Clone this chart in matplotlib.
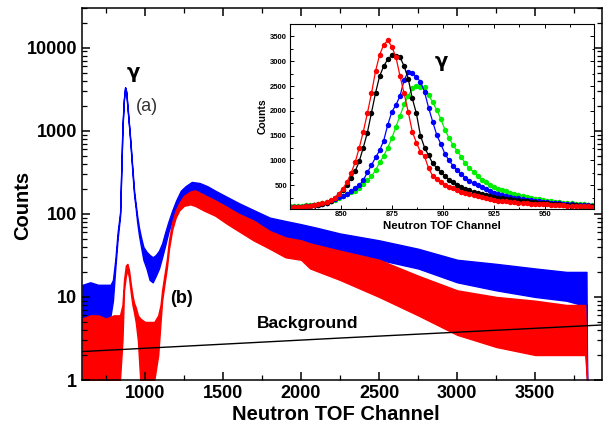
import numpy as np
import matplotlib
matplotlib.use("Agg")
import matplotlib.pyplot as plt
from matplotlib.ticker import MultipleLocator, LogLocator, NullFormatter

plt.rcParams.update({
    "font.family": ["Liberation Sans", "DejaVu Sans"],
    "font.weight": "bold",
    "axes.linewidth": 1.1,
})

# ---- full TOF spectra: channel, lower / upper envelope of the counts ----
blue_ch = [600, 650, 700, 750, 780, 795, 810, 825, 841, 848, 856, 865, 873, 880, 890,
           899, 907, 915, 923, 931, 940, 950, 962, 975, 990, 1010, 1030, 1050, 1070,
           1090, 1110, 1130, 1150, 1175, 1200, 1230, 1260, 1300, 1350, 1400, 1450,
           1525, 1600, 1700, 1800, 1900, 2000, 2100, 2250, 2500, 2750, 3000, 3250,
           3500, 3700, 3800, 3828, 3832]
blue_lo = [4, 4, 4, 5, 6, 9, 22, 50, 95, 300, 1050, 2300, 3300, 2900, 1700,
           1080, 700, 420, 260, 165, 120, 80, 55, 40, 28, 22, 16, 15, 18,
           22, 30, 42, 60, 85, 110, 140, 160, 175, 170, 155, 140,
           110, 95, 72, 58, 52, 48, 42, 36, 28, 22, 15, 12,
           10, 9, 8, 8, 1]
blue_hi = [14, 15, 14, 14, 14, 16, 28, 60, 105, 320, 1150, 2400, 3350, 3000, 1800,
           1130, 740, 460, 290, 185, 135, 95, 68, 52, 40, 35, 32, 30, 32,
           36, 44, 60, 80, 110, 145, 190, 215, 242, 235, 215, 190,
           160, 135, 110, 90, 82, 75, 68, 58, 48, 38, 28, 25,
           22, 20, 20, 20, 1]

red_ch = [600, 650, 700, 750, 800, 840, 856, 866, 878, 888, 898, 910, 920, 930, 941,
          955, 970, 1000, 1030, 1060, 1085, 1100, 1110, 1122, 1140, 1154, 1175, 1197,
          1220, 1250, 1290, 1320, 1376, 1450, 1525, 1600, 1695, 1800, 1900, 2000,
          2058, 2250, 2500, 2750, 3000, 3250, 3500, 3700, 3820, 3832]
red_lo = [1, 1, 1, 1, 1, 1, 3, 12, 18, 21, 17, 11, 8, 6.5, 5,
          3, 1, 1, 1, 1, 2, 5, 9, 13, 22, 38, 65, 90,
          110, 125, 130, 125, 110, 95, 76, 62, 48, 38, 30, 28,
          22, 16, 10, 6, 3.5, 2.5, 2, 2, 2, 1]
red_hi = [5.5, 6, 6, 5.5, 6, 6, 8, 16, 24, 25, 21, 14, 10.5, 8.5, 7.5,
          6, 5.5, 5, 5, 5, 6, 8, 12, 17, 28, 48, 80, 110,
          135, 165, 185, 192, 170, 145, 121, 100, 83, 62, 52, 48,
          44, 36, 28, 18, 12, 10, 9, 8, 8, 1]

bg_ch = [597, 2250, 3930]
bg_counts = [2.2, 3.2, 4.6]

# ---- gamma-peak detail, one value every 2 channels ----
peak_ch = np.arange(825, 975, 2)
red_pk = [60, 62, 65, 70, 78, 88, 100, 115, 135, 160, 195, 245, 320, 430, 560,
          740, 960, 1250, 1580, 1950, 2350, 2800, 3130, 3330, 3420, 3290, 3080,
          2700, 2350, 1980, 1580, 1360, 1170, 1080, 840, 690, 620, 570, 510, 470,
          440, 410, 370, 335, 315, 295, 280, 265, 235, 215, 200, 185, 178, 172,
          166, 160, 150, 142, 135, 128, 122, 118, 115, 112, 108, 102, 97, 92, 88,
          84, 80, 77, 74, 72, 70]
black_pk = [60, 62, 65, 70, 76, 85, 96, 110, 128, 150, 185, 240, 318, 400, 500,
            650, 780, 980, 1260, 1560, 1960, 2360, 2700, 2900, 3040, 3120, 3100,
            3080, 2900, 2650, 2250, 1950, 1500, 1260, 1100, 940, 850, 760, 680,
            610, 560, 510, 465, 430, 400, 370, 345, 320, 300, 280, 265, 252, 240,
            228, 215, 205, 195, 185, 175, 165, 157, 148, 140, 132, 125, 118, 112,
            106, 100, 96, 92, 88, 84, 80, 78]
blue_pk = [60, 62, 65, 70, 76, 84, 94, 106, 122, 145, 175, 215, 255, 290, 320,
           380, 440, 500, 600, 760, 900, 1060, 1200, 1400, 1720, 1980, 2120, 2300,
           2620, 2790, 2770, 2680, 2590, 2380, 2060, 1780, 1510, 1330, 1130, 1000,
           890, 800, 725, 650, 590, 540, 500, 460, 420, 380, 350, 320, 300, 280,
           262, 248, 235, 222, 210, 198, 186, 175, 165, 156, 148, 140, 133, 126,
           120, 114, 108, 103, 98, 94, 90]
green_pk = [75, 78, 82, 88, 95, 102, 110, 120, 135, 155, 180, 210, 250, 285, 320,
            355, 390, 440, 520, 600, 680, 800, 960, 1090, 1260, 1450, 1680, 1900,
            2130, 2300, 2450, 2500, 2480, 2470, 2320, 2170, 2020, 1830, 1620, 1450,
            1310, 1190, 1070, 940, 840, 770, 680, 610, 560, 510, 470, 430, 400, 375,
            350, 330, 305, 285, 265, 245, 230, 215, 200, 188, 176, 166, 156, 148,
            140, 132, 126, 120, 114, 108, 102]

fig = plt.figure(figsize=(6.04, 4.28), dpi=100, facecolor="white")
ax = fig.add_axes([0.1358, 0.1121, 0.8615, 0.8692])

ax.fill_between(blue_ch, blue_lo, blue_hi, color="#0000ff", lw=1.0)
ax.fill_between(red_ch, red_lo, red_hi, color="#ff0000", lw=1.0)
ax.plot(bg_ch, bg_counts, color="black", lw=1.0)

ax.set_yscale("log")
ax.set_xlim(597, 3930)
ax.set_ylim(1, 30000)
ax.set_xticks([1000, 1500, 2000, 2500, 3000, 3500])
ax.xaxis.set_minor_locator(MultipleLocator(250))
ax.yaxis.set_major_locator(LogLocator(base=10, numticks=10))
ax.yaxis.set_minor_locator(LogLocator(base=10, subs=np.arange(2, 10), numticks=20))
ax.yaxis.set_minor_formatter(NullFormatter())
ax.yaxis.set_major_formatter(plt.FuncFormatter(lambda v, p: f"{int(round(v))}"))
ax.tick_params(which="both", direction="in", top=True, right=True, labelsize=13)
ax.tick_params(which="major", length=6, width=1.1)
ax.tick_params(which="minor", length=3.5, width=0.9)

ax.set_xlabel("Neutron TOF Channel", fontsize=14.5, fontweight="bold")
ax.set_ylabel("Counts", fontsize=14.5, fontweight="bold")
ax.xaxis.set_label_coords(0.488, -0.066)
ax.yaxis.set_label_coords(-0.096, 0.468)

ax.text(925, 5000, "γ", fontsize=14, fontweight="bold", family="DejaVu Sans",
        ha="center", va="center")
ax.text(1016, 1960, "(a)", fontsize=13, fontweight="normal", color="#333333",
        ha="center", va="center")
ax.text(1231, 9.7, "(b)", fontsize=13, fontweight="bold", ha="center", va="center")
ax.text(2040, 4.85, "Background", fontsize=12.5, fontweight="bold", ha="center",
        va="center")

# inset: close-up of the gamma peak
axi = fig.add_axes([0.4798, 0.5128, 0.5036, 0.4311])
for vals, col in [(green_pk, "#00ee00"), (blue_pk, "#0000ff"),
                  (black_pk, "black"), (red_pk, "#ff0000")]:
    axi.plot(peak_ch, vals, color=col, lw=0.9, marker="o", ms=3.9, mew=0)
axi.set_xlim(825, 974)
axi.set_ylim(30, 3750)
axi.set_xticks([850, 875, 900, 925, 950])
axi.xaxis.set_minor_locator(MultipleLocator(12.5))
axi.yaxis.set_major_locator(MultipleLocator(500))
axi.yaxis.set_minor_locator(MultipleLocator(250))
axi.tick_params(which="both", direction="in", top=True, right=True, labelsize=5.5,
                width=0.7, pad=2)
axi.tick_params(which="major", length=3)
axi.tick_params(which="minor", length=1.8)
for sp in axi.spines.values():
    sp.set_linewidth(0.8)
axi.set_xlabel("Neutron TOF Channel", fontsize=8.2, fontweight="bold", labelpad=2)
axi.set_ylabel("Counts", fontsize=7.5, fontweight="bold", labelpad=2)
axi.text(899, 2990, "γ", fontsize=14, fontweight="bold", family="DejaVu Sans",
         ha="center", va="center")

fig.savefig("out.png", dpi=100)
